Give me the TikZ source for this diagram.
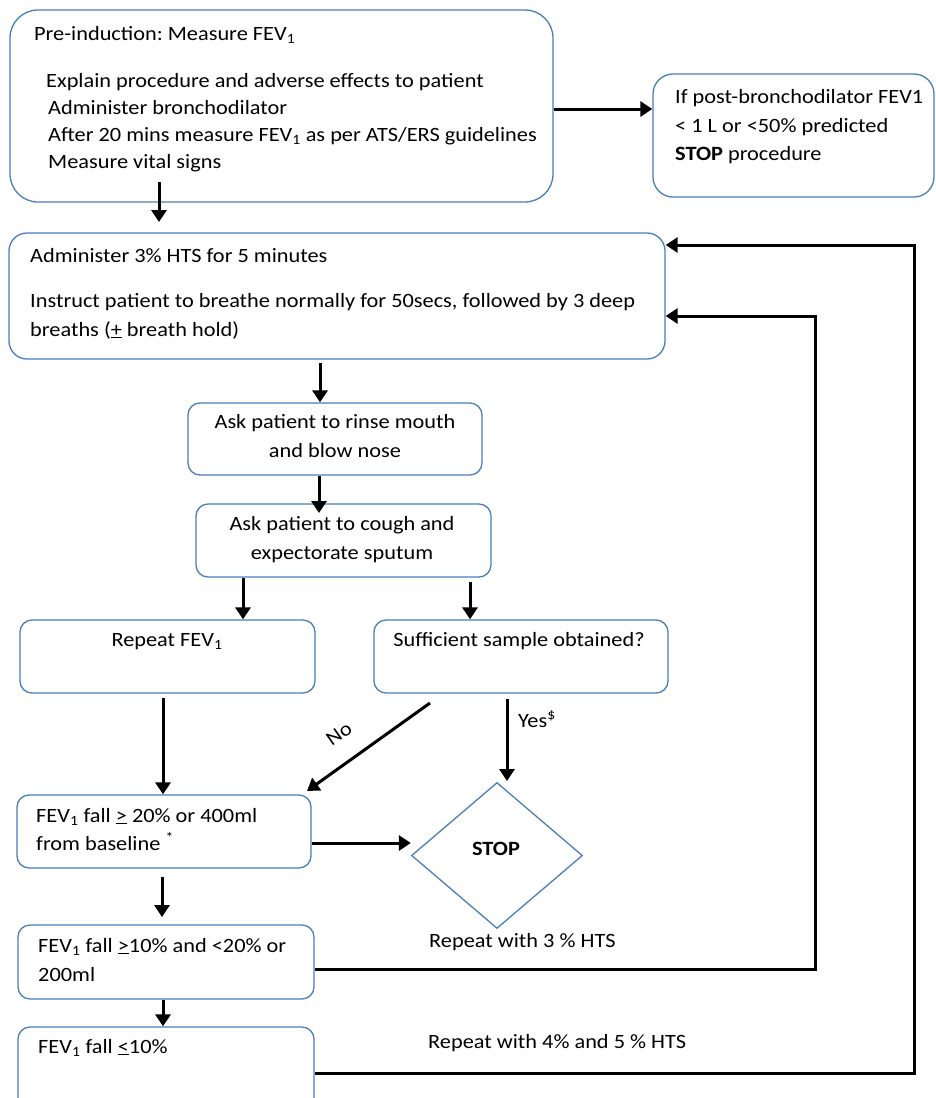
\documentclass[tikz,border=0pt]{standalone}
\usepackage{fontspec}
\setmainfont{Carlito}[FakeStretch=1.1]
\frenchspacing
\usetikzlibrary{arrows.meta,shapes.geometric}
\definecolor{boxblue}{HTML}{4A7EBB}
\begin{document}
\begin{tikzpicture}[x=1pt,y=-1pt,
  box/.style={draw=boxblue,line width=1.3pt,inner sep=0pt,rectangle},
  txt/.style={inner sep=0pt,anchor=base west,font=\fontsize{20.3}{24}\selectfont},
  ctxt/.style={inner sep=0pt,anchor=base,font=\fontsize{20.3}{24}\selectfont},
  arr/.style={line width=3pt,-{Triangle[length=12pt,width=15pt]}},
  loopline/.style={line width=3pt,-{Triangle[length=12pt,width=15pt]}}]
\useasboundingbox (0,0) rectangle (936,1098);
\fill[white] (0,0) rectangle (936,1098);

% boxes
\node[box,rounded corners=28pt,minimum width=543pt,minimum height=192pt] (pre) at (281.5,106) {};
\node[box,rounded corners=20pt,minimum width=281pt,minimum height=123pt] (stopproc) at (793.5,135.5) {};
\node[box,rounded corners=18pt,minimum width=656pt,minimum height=126pt] (admin) at (337,296) {};
\node[box,rounded corners=12pt,minimum width=294pt,minimum height=72pt] (rinse) at (335,439) {};
\node[box,rounded corners=12pt,minimum width=295pt,minimum height=73pt] (cough) at (343.5,540.5) {};
\node[box,rounded corners=12pt,minimum width=295pt,minimum height=73pt] (repeat) at (167.5,656.5) {};
\node[box,rounded corners=12pt,minimum width=294pt,minimum height=73pt] (suff) at (521,656.5) {};
\node[box,rounded corners=12pt,minimum width=294pt,minimum height=73pt] (fevA) at (164,831.5) {};
\node[box,rounded corners=12pt,minimum width=296pt,minimum height=74pt] (fevB) at (166,962) {};
\node[box,rounded corners=12pt,minimum width=296pt,minimum height=83pt] (fevC) at (166,1068.5) {};
\node[draw=boxblue,line width=1.3pt,diamond,inner sep=0pt,minimum width=171pt,minimum height=146pt] (stop) at (497,855.5) {};

% texts
\node[txt] (t1) at (34,40) {Pre-induction: Measure FEV\textsubscript{1}};
\node[txt] (t2) at (46,87) {Explain procedure and adverse effects to patient};
\node[txt] (t3) at (48,114) {Administer bronchodilator};
\node[txt] (t4) at (48,141) {After 20 mins measure FEV\textsubscript{1} as per ATS/ERS guidelines};
\node[txt] (t5) at (48,168) {Measure vital signs};

\node[txt] (s1) at (675,103) {If post-bronchodilator FEV1};
\node[txt] (s2) at (675,132) {< 1 L or <50\% predicted};
\node[txt] (s3) at (675,160) {\textbf{STOP} procedure};

\node[txt] (a1) at (30,262) {Administer 3\% HTS for 5 minutes};
\node[txt] (a2) at (30,307) {Instruct patient to breathe normally for 50secs, followed by 3 deep};
\node[txt] (a3) at (30,336) {breaths (\underline{+} breath hold)};

\node[ctxt] (r1) at (335,428) {Ask patient to rinse mouth};
\node[ctxt] (r2) at (335,457) {and blow nose};
\node[ctxt] (c1) at (342,530) {Ask patient to cough and};
\node[ctxt] (c2) at (342,559) {expectorate sputum};
\node[ctxt] (p1) at (167,646) {Repeat FEV\textsubscript{1}};
\node[ctxt] (q1) at (519,646) {Sufficient sample obtained?};

\node[txt] (f1) at (36,822) {FEV\textsubscript{1} fall \underline{>} 20\% or 400ml};
\node[txt] (f2) at (36,850) {from baseline \textsuperscript{*}};
\node[txt] (g1) at (38,952) {FEV\textsubscript{1} fall \underline{>}10\% and <20\% or};
\node[txt] (g2) at (38,981) {200ml};
\node[txt] (h1) at (38,1053) {FEV\textsubscript{1} fall \underline{<}10\%};

\node[ctxt,font=\fontsize{20.3}{24}\selectfont\bfseries] (stoptxt) at (496,855) {STOP};
\node[txt] (rep3) at (429,947) {Repeat with 3 \% HTS};
\node[txt] (rep45) at (428,1048) {Repeat with 4\% and 5 \% HTS};
\node[inner sep=0pt,rotate=35,font=\fontsize{20.3}{24}\selectfont] (no) at (339,734) {No};
\node[txt] (yes) at (518,727) {Yes\textsuperscript{\$}};

% free connector ends
\coordinate (preout) at (159,182);
\coordinate (prein) at (159,222);
\coordinate (adminout) at (320,363);
\coordinate (coughin) at (319,513);
\coordinate (suffout) at (470,582);
\coordinate (repout) at (163,698);
\coordinate (noout) at (430,703);
\coordinate (noin) at (307,791);
\coordinate (yesout) at (507,699);
\coordinate (fevAout) at (162,877);
\coordinate (fevBin) at (162,917);

% connectors
\draw[arr] (preout) -- (prein);
\draw[arr] (pre.east |- 0,109) -- (stopproc.west |- 0,109);
\draw[arr] (adminout) -- (320,0 |- rinse.north);
\draw[arr] (rinse.south -| 319,0) -- (coughin);
\draw[arr] (cough.south -| 243,0) -- (repeat.north -| 243,0);
\draw[arr] (suffout) -- (suff.north -| 470,0);
\draw[arr] (repout) -- (fevA.north -| 163,0);
\draw[arr] (noout) -- (noin);
\draw[arr] (yesout) -- (507,781);
\draw[arr] (fevA.east |- 0,843) -- (stop.west |- 0,843);
\draw[arr] (fevAout) -- (fevBin);
\draw[arr] (fevB.south -| 163,0) -- (fevC.north -| 163,0);
\draw[loopline] (fevB.east |- 0,969) -- (815,969) -- (815,316) -- (admin.east |- 0,316);
\draw[loopline] (fevC.east |- 0,1073) -- (914,1073) -- (914,245) -- (admin.east |- 0,245);
\end{tikzpicture}
\end{document}
